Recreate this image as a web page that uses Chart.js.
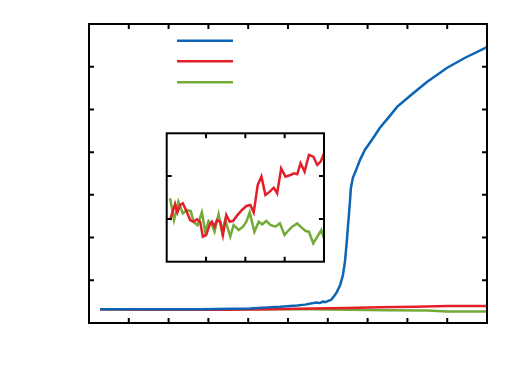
<!DOCTYPE html>
<html>
<head>
<meta charset="utf-8">
<script src="https://cdn.jsdelivr.net/npm/chart.js@4"></script>
<style>
  html, body { margin: 0; padding: 0; background: #fff; }
  #wrap { position: relative; width: 525px; height: 392px; }
  #main { position: absolute; left: 0; top: 0; }
  #inset { position: absolute; left: 161px; top: 128px; background: #fff; }
</style>
</head>
<body>
<div id="wrap">
  <canvas id="main" width="525" height="392"></canvas>
  <canvas id="inset" width="168" height="140"></canvas>
</div>
<script>
// Main panel series
const blueX = [0.28, 2.79, 4.05, 4.37, 4.80, 5.23, 5.43, 5.60, 5.70, 5.80, 5.88, 5.95, 6.01, 6.08, 6.16, 6.23, 6.31, 6.38, 6.43, 6.47, 6.51, 6.55, 6.58, 6.63, 6.71, 6.81, 6.93, 7.11, 7.31, 7.56, 7.74, 8.07, 8.49, 8.99, 9.45, 10.0];
const blueY = [0.32, 0.32, 0.34, 0.36, 0.38, 0.41, 0.43, 0.46, 0.48, 0.47, 0.50, 0.49, 0.52, 0.54, 0.63, 0.73, 0.89, 1.12, 1.43, 1.83, 2.30, 2.76, 3.16, 3.40, 3.58, 3.82, 4.05, 4.29, 4.57, 4.85, 5.06, 5.32, 5.64, 5.97, 6.21, 6.46];
const redX = [0.28, 1.5, 2.5, 3.5, 4.5, 5.6, 6.5, 7.3, 8.2, 9.0, 9.5, 10.0];
const redY = [0.32, 0.31, 0.31, 0.31, 0.32, 0.34, 0.35, 0.37, 0.38, 0.40, 0.40, 0.40];
const greenX = [0.28, 1.5, 2.5, 3.5, 4.5, 5.6, 6.5, 7.5, 8.5, 9.0, 9.5, 10.0];
const greenY = [0.32, 0.32, 0.31, 0.32, 0.32, 0.32, 0.31, 0.30, 0.29, 0.27, 0.27, 0.27];

// Inset series
const insetRedX = [0.085, 0.213, 0.272, 0.340, 0.409, 0.511, 0.596, 0.681, 0.766, 0.851, 0.919, 1.004, 1.089, 1.149, 1.217, 1.277, 1.362, 1.430, 1.515, 1.600, 1.685, 1.787, 1.915, 2.026, 2.128, 2.213, 2.315, 2.409, 2.511, 2.621, 2.723, 2.809, 2.911, 3.021, 3.149, 3.234, 3.319, 3.404, 3.506, 3.617, 3.728, 3.830, 3.915, 4.0];
const insetRedY = [0.974, 1.348, 1.153, 1.325, 1.364, 1.169, 0.974, 0.935, 0.990, 0.935, 0.585, 0.624, 0.857, 0.935, 0.818, 0.974, 0.935, 0.624, 1.091, 0.935, 0.951, 1.076, 1.208, 1.302, 1.325, 1.153, 1.793, 1.988, 1.559, 1.637, 1.730, 1.598, 2.182, 1.988, 2.026, 2.065, 2.042, 2.299, 2.104, 2.494, 2.455, 2.260, 2.338, 2.533];
const insetGreenX = [0.085, 0.187, 0.298, 0.409, 0.511, 0.613, 0.681, 0.783, 0.894, 0.979, 1.064, 1.149, 1.217, 1.319, 1.404, 1.489, 1.617, 1.702, 1.830, 1.940, 2.026, 2.111, 2.230, 2.340, 2.426, 2.536, 2.638, 2.766, 2.877, 2.996, 3.106, 3.191, 3.319, 3.404, 3.532, 3.617, 3.728, 3.830, 3.932, 4.0];
const insetGreenY = [1.481, 0.974, 1.403, 1.130, 1.208, 1.185, 0.935, 0.857, 1.153, 0.701, 0.951, 0.857, 0.701, 1.107, 0.701, 0.974, 0.585, 0.857, 0.740, 0.818, 0.935, 1.153, 0.701, 0.935, 0.873, 0.951, 0.857, 0.818, 0.896, 0.624, 0.740, 0.818, 0.896, 0.818, 0.717, 0.701, 0.429, 0.585, 0.740, 0.545];

const BLUE = '#0b64b5';
const RED = '#e3202a';
const GREEN = '#73ab37';

const pts = (xs, ys) => xs.map((x, i) => ({ x: x, y: ys[i] }));

// frame with inward ticks on all four sides
function framePlugin(xTicks, yTicks, tickLen) {
    return {
        id: 'frame',
        afterDraw(chart) {
            const { ctx, chartArea: a, scales } = chart;
            ctx.save();
            ctx.strokeStyle = '#000';
            ctx.lineWidth = 2;
            ctx.strokeRect(a.left, a.top, a.right - a.left, a.bottom - a.top);
            ctx.beginPath();
            xTicks.forEach(v => {
                const px = scales.x.getPixelForValue(v);
                ctx.moveTo(px, a.bottom); ctx.lineTo(px, a.bottom - tickLen);
                ctx.moveTo(px, a.top); ctx.lineTo(px, a.top + tickLen);
            });
            yTicks.forEach(v => {
                const py = scales.y.getPixelForValue(v);
                ctx.moveTo(a.left, py); ctx.lineTo(a.left + tickLen, py);
                ctx.moveTo(a.right, py); ctx.lineTo(a.right - tickLen, py);
            });
            ctx.stroke();
            ctx.restore();
        }
    };
}

// legend lines only, no labels
const legendLines = {
    id: 'legendLines',
    afterDraw(chart) {
        const ctx = chart.ctx;
        const rows = [40.7, 61.3, 82.3];
        ctx.save();
        ctx.lineWidth = 2.5;
        chart.data.datasets.forEach((ds, i) => {
            ctx.strokeStyle = ds.borderColor;
            ctx.beginPath();
            ctx.moveTo(177, rows[i]);
            ctx.lineTo(233, rows[i]);
            ctx.stroke();
        });
        ctx.restore();
    }
};

const lineDs = (data, color) => ({
    data: data, borderColor: color, borderWidth: 2.5,
    pointRadius: 0, tension: 0, fill: false
});

new Chart(document.getElementById('main'), {
    type: 'line',
    data: {
        datasets: [
            lineDs(pts(blueX, blueY), BLUE),
            lineDs(pts(redX, redY), RED),
            lineDs(pts(greenX, greenY), GREEN)
        ]
    },
    options: {
        responsive: false,
        animation: false,
        layout: { padding: { left: 89, top: 24, right: 38, bottom: 69 } },
        scales: {
            x: { type: 'linear', min: 0, max: 10, display: false },
            y: { type: 'linear', min: 0, max: 7, display: false }
        },
        plugins: { legend: { display: false }, tooltip: { enabled: false } }
    },
    plugins: [framePlugin([1, 2, 3, 4, 5, 6, 7, 8, 9], [1, 2, 3, 4, 5, 6], 5), legendLines]
});

new Chart(document.getElementById('inset'), {
    type: 'line',
    data: {
        datasets: [
            lineDs(pts(insetRedX, insetRedY), RED),
            lineDs(pts(insetGreenX, insetGreenY), GREEN)
        ]
    },
    options: {
        responsive: false,
        animation: false,
        layout: { padding: { left: 5.7, top: 5.3, right: 5, bottom: 6.3 } },
        scales: {
            x: { type: 'linear', min: 0, max: 4, display: false },
            y: { type: 'linear', min: 0, max: 3, display: false }
        },
        plugins: { legend: { display: false }, tooltip: { enabled: false } }
    },
    plugins: [framePlugin([1, 2, 3], [1, 2], 5)]
});
</script>
</body>
</html>
